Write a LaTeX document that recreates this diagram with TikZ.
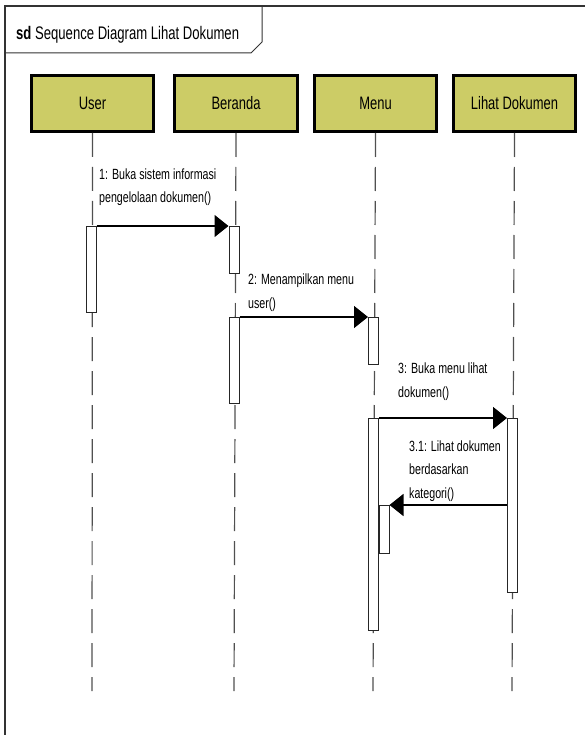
\documentclass[tikz,border=0pt]{standalone}
\usepackage{fontspec}
\setmainfont{Liberation Sans}[FakeStretch=0.72]
\usetikzlibrary{arrows.meta}
\definecolor{boxfill}{RGB}{204,204,102}
\definecolor{lifegray}{RGB}{80,80,80}
\tikzset{
  lifebox/.style={draw=black, line width=3pt, fill=boxfill, minimum width=120pt, minimum height=56pt, inner sep=0pt, anchor=north west, font=\fontsize{18}{20}\selectfont},
  actbox/.style={draw=black!85, line width=1pt, fill=white, minimum width=10pt, inner sep=0pt, anchor=north},
  lifeline/.style={draw=lifegray, line width=1.2pt, dash pattern=on 24pt off 10pt},
  msg/.style={draw=black, line width=1.6pt, -{Triangle[length=14pt,width=22pt]}},
  msglabel/.style={anchor=base west, align=left, inner sep=0pt, font=\fontsize{14.8}{23.5}\selectfont},
}
\begin{document}
\begin{tikzpicture}[x=1pt,y=-1pt]
\useasboundingbox (0,0) rectangle (585,735);
% frame
\draw[line width=1.2pt, draw=black!80] (585,6) -- (5,6) -- (5,735);
\draw[line width=1pt, draw=black!80] (5,53) -- (251,53) -- (262,42) -- (262,6);
\node[anchor=base west, inner sep=0pt, font=\fontsize{18.2}{20}\selectfont] (title) at (16,40) {\textbf{sd} Sequence Diagram Lihat Dokumen};
% lifeline heads
\node[lifebox, minimum width=122pt] (user) at (30,74) {User};
\node[lifebox, minimum width=123pt] (beranda) at (173,74) {Beranda};
\node[lifebox, minimum width=122pt] (menu) at (313,74) {Menu};
\node[lifebox, minimum width=122pt] (lihat) at (452,74) {Lihat Dokumen};
% lifeline ends
\coordinate (userEnd) at (92,691);
\coordinate (berandaEnd) at (234,691);
\coordinate (menuEnd) at (373,691);
\coordinate (lihatEnd) at (512,691);
\draw[lifeline] (user.south) -- (userEnd);
\draw[lifeline] (beranda.south) -- (berandaEnd);
\draw[lifeline] (menu.south) -- (menuEnd);
\draw[lifeline] (lihat.south) -- (lihatEnd);
% activations
\node[actbox, minimum height=86pt] (u1) at (91,226) {};
\node[actbox, minimum height=47pt] (b1) at (234,226) {};
\node[actbox, minimum height=86pt] (b2) at (234,317) {};
\node[actbox, minimum height=47pt] (m1) at (373.5,317) {};
\node[actbox, minimum height=212pt] (m2) at (373.5,418) {};
\node[actbox, minimum height=174pt] (l1) at (512.5,418) {};
\node[actbox, minimum height=48pt] (m3) at (384,505) {};
% messages
\draw[msg] (u1.north east) -- (b1.north west);
\draw[msg] (b2.north east) -- (m1.north west);
\draw[msg] (m2.north east) -- (l1.north west);
\draw[msg] (l1.west |- m3.north) -- (m3.north east);
% labels (anchor = baseline of last line)
\node[msglabel] (t1) at (99,203) {1: Buka sistem informasi\\pengelolaan dokumen()};
\node[msglabel] (t2) at (248,308) {2: Menampilkan menu\\user()};
\node[msglabel] (t3) at (398,397) {3: Buka menu lihat\\dokumen()};
\node[msglabel] (t31) at (409,498) {3.1: Lihat dokumen\\berdasarkan\\kategori()};
\end{tikzpicture}
\end{document}
